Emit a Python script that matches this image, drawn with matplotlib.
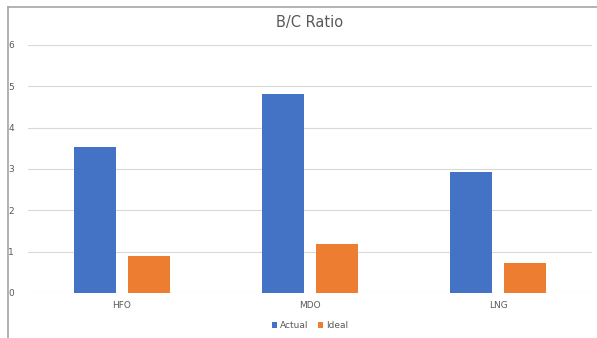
import numpy as np
import matplotlib.pyplot as plt
from matplotlib.lines import Line2D

# B/C ratio per fuel type
fuels = ["HFO", "MDO", "LNG"]
actual = [3.54, 4.82, 2.92]
ideal = [0.90, 1.19, 0.73]

W, H = 597, 338
fig = plt.figure(figsize=(W / 100, H / 100), dpi=100)
fig.patch.set_facecolor("white")

# plot area in pixel terms
left, right, top, bottom = 28, 592, 45, 293
ax = fig.add_axes([left / W, (H - bottom) / H, (right - left) / W, (bottom - top) / H])

x = np.arange(len(fuels))
bw = 0.223
off = 0.142
ax.bar(x - off, actual, bw, color="#4472C4", label="Actual", zorder=3)
ax.bar(x + off, ideal, bw, color="#ED7D31", label="Ideal", zorder=3)

ax.set_xlim(-0.5, len(fuels) - 0.5)
ax.set_ylim(0, 6)
ax.set_yticks(range(0, 7))
ax.set_xticks(x)
ax.set_xticklabels(fuels)
ax.tick_params(axis="both", length=0, labelsize=6.5, colors="#595959")
ax.tick_params(axis="x", pad=6)
ax.tick_params(axis="y", pad=10)
ax.grid(axis="y", color="#d9d9d9", linewidth=0.8, zorder=0)
for s in ax.spines.values():
    s.set_visible(False)

fig.text(310 / W, 1 - 22 / H, "B/C Ratio", ha="center", va="center",
         fontsize=10.5, color="#595959")

leg = fig.legend(loc="center", bbox_to_anchor=(310 / W, 1 - 326 / H),
                 ncol=2, frameon=False, fontsize=6.5, handlelength=0.6,
                 handleheight=0.6, handletextpad=0.3, columnspacing=1.0)
for t in leg.get_texts():
    t.set_color("#595959")

# outer frame (left and top edges only)
fig.add_artist(Line2D([8 / W, 8 / W], [0, 1 - 7 / H], color="#a6a6a6", linewidth=1.2))
fig.add_artist(Line2D([8 / W, 1], [1 - 7 / H, 1 - 7 / H], color="#a6a6a6", linewidth=1.2))

fig.savefig("out.png", dpi=100)
